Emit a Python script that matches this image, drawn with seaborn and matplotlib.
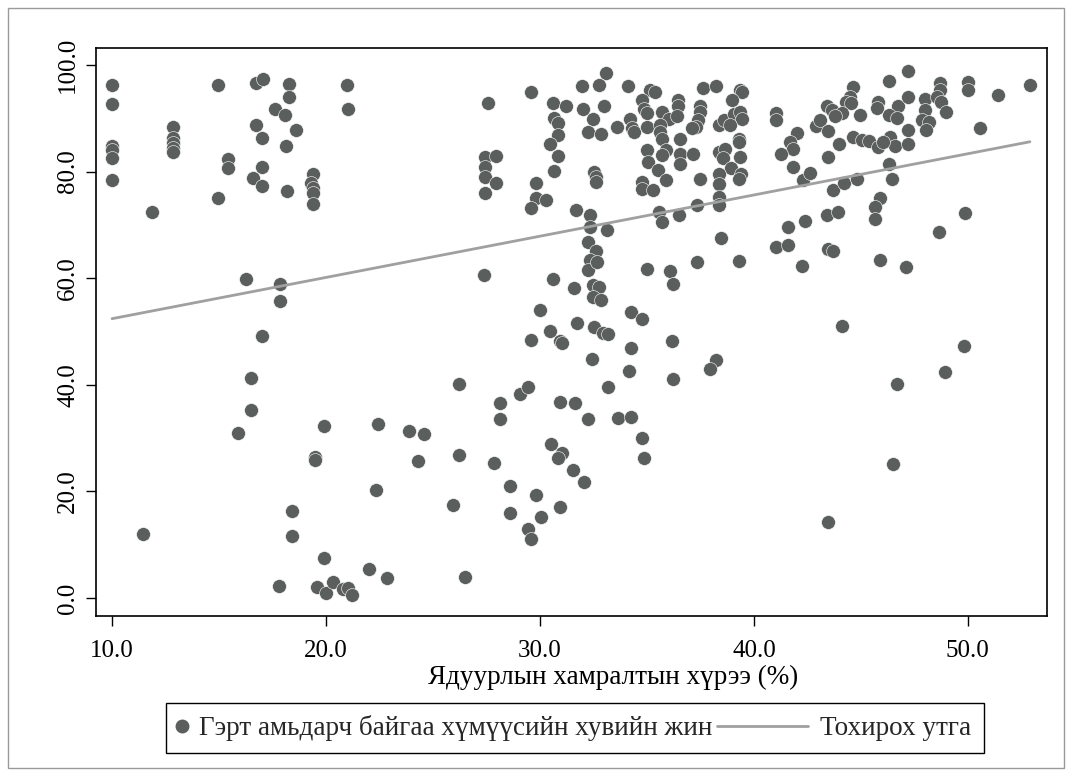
import numpy as np
import pandas as pd
import matplotlib
matplotlib.use("Agg")
import matplotlib.pyplot as plt
import seaborn as sns
from matplotlib.lines import Line2D
from matplotlib.legend_handler import HandlerLine2D
from matplotlib.patches import Rectangle

# ---- data ----
poverty_rate = [
    10.0, 10.0, 10.0, 10.0, 10.0, 10.0, 11.45, 11.85,
    12.85, 12.85, 12.85, 12.85, 12.85, 14.95, 14.95, 15.4, 15.4, 16.25,
    16.75, 17.05, 16.75, 17.0, 17.0, 16.6, 17.0,
    18.25, 18.25, 17.6, 18.1, 18.6, 18.15, 18.2,
    19.4, 19.3, 19.4, 19.4, 19.4, 17.85, 17.85, 17.0, 21.0, 21.05,
    16.5, 16.5, 15.9, 19.9, 19.5, 19.5,
    18.4, 18.4, 19.9, 17.8, 19.6, 20.0, 20.35, 20.8, 21.05, 21.2,
    22.0, 22.85, 22.45, 22.35, 23.9, 24.6, 24.3,
    26.2, 26.2, 25.95, 26.5, 27.85, 28.15, 28.15, 28.6, 28.6,
    29.05, 29.45, 29.6, 30.45, 30.95, 31.05,
    30.95, 31.65, 30.5, 31.05, 30.85, 31.55, 29.8, 30.05, 29.45, 29.6, 30.95, 32.05,
    27.55, 27.45, 27.95, 27.45, 27.45, 27.95, 27.45, 27.4,
    29.6, 30.6, 31.2, 30.65, 30.85, 30.85, 30.45, 30.85, 30.65, 29.8, 29.8, 30.3, 29.6, 31.7,
    30.6, 31.6, 30.0, 31.75,
    33.1, 31.95, 32.75, 34.1, 35.15, 35.4, 34.75, 34.85, 35.0, 36.45, 36.45, 37.6, 38.25, 39.35, 39.45, 39.0,
    32.0, 33.0, 32.5, 32.25, 32.85, 33.6, 34.2, 34.3, 34.4, 35.0,
    35.7, 36.05, 36.4, 35.6, 35.6, 35.7,
    35.0, 35.9, 35.7, 35.05, 35.5, 35.9, 34.75, 34.75, 35.3,
    36.55, 36.55, 36.55, 37.15,
    37.5, 37.5, 37.4, 37.3, 37.1, 37.5,
    38.35, 38.65, 38.55,
    38.35, 38.6, 39.05, 39.35, 39.45, 38.9,
    39.3, 39.3, 39.35, 38.95, 39.4, 39.3,
    38.35, 38.35, 38.35, 38.35, 37.35, 36.5, 35.55, 35.7,
    32.55, 32.6, 32.6,
    32.35, 32.35, 33.15, 32.25, 32.6, 32.35, 32.25, 32.65,
    32.5, 32.75, 32.5, 32.85,
    32.55, 32.95, 33.2, 34.25, 34.75, 35.0, 36.1, 36.2, 37.35, 38.45, 39.3,
    41.05, 41.05, 42.0, 41.7, 41.85, 41.25, 41.85, 42.3, 42.6, 42.9,
    41.6, 42.4, 41.05, 41.6, 42.25, 36.15,
    34.25, 32.45, 34.15, 36.2, 38.25, 37.95, 33.2, 32.25, 33.65, 34.25, 34.75, 34.85,
    47.2, 46.3, 48.7, 48.7, 50.0, 50.0, 52.9, 51.4,
    44.65, 44.5, 44.3, 44.55,
    43.4, 43.65, 44.1, 43.8, 43.1, 43.45,
    44.95, 45.8, 45.75, 46.75, 46.3, 46.7, 47.2,
    48.0, 48.0, 47.85, 48.2, 48.05, 48.55, 48.75, 49.0, 50.55, 47.2,
    44.65, 45.05, 45.4, 45.8, 46.35, 46.6, 47.2, 44.0, 46.05,
    43.45, 46.3, 46.45, 43.7, 44.2, 44.8,
    45.9, 45.65, 45.65, 43.4, 43.95, 49.85, 48.65, 43.45, 43.7, 45.9, 47.1, 44.1,
    49.8, 48.95, 46.7, 46.5, 43.45,
]
ger_share = [
    96.2, 92.6, 84.8, 84.0, 82.6, 78.5, 12.0, 72.4,
    88.3, 86.4, 85.3, 84.4, 83.6, 96.2, 75.1, 82.3, 80.6, 59.8,
    96.6, 97.3, 88.8, 86.4, 80.8, 78.8, 77.3,
    96.4, 94.0, 91.8, 90.7, 87.9, 84.8, 76.3,
    79.5, 77.8, 77.0, 75.9, 74.0, 59.0, 55.7, 49.1, 96.2, 91.7,
    41.2, 35.3, 31.0, 32.3, 26.4, 25.8,
    16.3, 11.6, 7.4, 2.3, 2.0, 0.9, 2.9, 1.6, 1.8, 0.5,
    5.4, 3.7, 32.6, 20.3, 31.4, 30.8, 25.7,
    40.1, 26.8, 17.4, 3.9, 25.4, 36.5, 33.6, 21.0, 16.0,
    38.2, 39.5, 48.4, 50.0, 48.2, 47.8,
    36.7, 36.6, 28.8, 27.1, 26.3, 24.0, 19.4, 15.1, 12.9, 11.0, 17.1, 21.8,
    92.8, 82.8, 82.9, 80.9, 79.0, 77.9, 76.0, 60.6,
    94.9, 92.9, 92.3, 90.1, 89.1, 86.9, 85.1, 82.9, 80.1, 77.8, 75.1, 74.6, 73.1, 72.8,
    59.9, 58.1, 54.1, 51.6,
    98.5, 96.0, 96.3, 96.0, 95.3, 94.9, 93.4, 91.8, 91.0, 93.4, 92.4, 95.6, 96.0, 95.4, 94.9, 93.5,
    91.8, 92.3, 89.8, 87.4, 87.0, 88.4, 89.9, 88.1, 87.4, 88.3,
    91.2, 89.9, 90.4, 88.7, 87.4, 86.2,
    84.0, 84.0, 83.1, 81.8, 80.3, 78.4, 78.1, 76.8, 76.6,
    86.2, 83.4, 81.4, 83.4,
    92.4, 91.2, 89.6, 88.3, 88.1, 78.7,
    83.7, 84.3, 82.6,
    88.7, 89.6, 90.9, 91.2, 89.9, 88.7,
    86.2, 85.6, 82.8, 80.6, 79.6, 78.7,
    79.6, 77.6, 75.2, 73.7, 73.8, 71.8, 72.4, 70.6,
    80.0, 79.0, 78.1,
    71.8, 69.6, 69.1, 66.8, 65.1, 63.4, 61.5, 63.1,
    58.7, 58.4, 56.5, 55.9,
    50.9, 49.7, 49.6, 53.7, 52.4, 61.8, 61.3, 59.0, 63.1, 67.6, 63.2,
    91.0, 89.6, 87.3, 85.6, 84.3, 83.4, 80.9, 78.4, 79.7, 88.6,
    69.6, 70.7, 65.9, 66.2, 62.3, 48.2,
    46.9, 44.8, 42.6, 41.1, 44.6, 42.9, 39.5, 33.5, 33.7, 34.0, 30.1, 26.3,
    98.9, 97.1, 96.6, 95.3, 96.8, 95.3, 96.3, 94.3,
    95.8, 94.0, 93.1, 92.8,
    92.4, 91.6, 91.0, 90.4, 89.6, 87.6,
    90.6, 93.1, 91.9, 92.4, 90.6, 90.1, 94.0,
    93.7, 91.6, 89.6, 89.4, 87.8, 94.0, 93.1, 91.2, 88.2, 87.8,
    86.5, 86.0, 85.7, 84.6, 86.5, 84.8, 85.1, 85.1, 85.6,
    82.8, 81.4, 78.7, 76.6, 77.9, 78.7,
    75.1, 73.4, 71.2, 71.8, 72.4, 72.3, 68.6, 65.4, 65.1, 63.5, 62.1, 51.0,
    47.3, 42.4, 40.1, 25.1, 14.2,
]
# fitted-values series
fit_x = [10.0, 52.9]
fit_y = [52.4, 85.6]

x_ticks = [10, 20, 30, 40, 50]
y_ticks = [0, 20, 40, 60, 80, 100]
x_label = "Ядуурлын хамралтын хүрээ (%)"
series_label = "Гэрт амьдарч байгаа хүмүүсийн хувийн жин"
fit_label = "Тохирох утга"

df = pd.DataFrame({"x": poverty_rate, "y": ger_share})
fit_df = pd.DataFrame({"x": fit_x, "y": fit_y})

# ---- style ----
sns.set_theme(style="white")
plt.rcParams["font.family"] = ["Liberation Serif", "DejaVu Serif"]
dot_color = "#5a5e5d"
line_color = "#a0a0a0"
fs = 18
fs_big = 19.5

fig = plt.figure(figsize=(10.72, 7.76), dpi=100)
ax = fig.add_axes([96 / 1072, 1 - 616 / 776, (1047 - 96) / 1072, (616 - 48) / 776])

sns.scatterplot(data=df, x="x", y="y", s=100, color=dot_color, edgecolor="white",
                linewidth=0.4, ax=ax, zorder=3, legend=False)
sns.lineplot(data=fit_df, x="x", y="y", color=line_color, lw=2, ax=ax, zorder=4,
             legend=False)

ax.set_xlim(9.25, 53.7)
ax.set_ylim(-3.4, 103.2)
ax.set_xticks(x_ticks)
ax.set_xticklabels([f"{v:.1f}" for v in x_ticks])
ax.set_yticks(y_ticks)
ax.set_yticklabels([f"{v:.1f}" for v in y_ticks], rotation=90, va="center")
ax.tick_params(axis="both", direction="out", length=7, width=1, color="black",
               labelsize=fs, labelcolor="black", bottom=True, left=True)
ax.tick_params(axis="x", pad=10.5)
ax.tick_params(axis="y", pad=5)
for sp in ax.spines.values():
    sp.set_color("black")
    sp.set_linewidth(1.2)
ax.set_xlabel(x_label, fontsize=fs_big, color="black", labelpad=1.5, x=0.544)
ax.set_ylabel("")
ax.grid(False)


class LongLineHandler(HandlerLine2D):
    def create_artists(self, legend, orig_handle, xdescent, ydescent, width,
                       height, fontsize, trans):
        extra = 3.05 * fontsize
        yv = (height - ydescent) / 2
        ln = Line2D([-xdescent - extra, -xdescent + width + 2], [yv, yv])
        self.update_prop(ln, orig_handle, legend)
        ln.set_transform(trans)
        return [ln]


h_dot = Line2D([], [], ls="", marker="o", markersize=9, color=dot_color)
h_line = Line2D([], [], color=line_color, lw=2)
leg = fig.legend([h_dot, h_line], [series_label, fit_label], loc="center",
                 bbox_to_anchor=(575 / 1072, 1 - 728 / 776), ncol=2, fontsize=fs_big,
                 frameon=True, fancybox=False, edgecolor="black", framealpha=1,
                 handlelength=0.22, handletextpad=0.55, columnspacing=3.2,
                 borderpad=0.45, handler_map={h_line: LongLineHandler()})
leg.get_frame().set_linewidth(1)

fig.patches.append(Rectangle((8 / 1072, 8 / 776), (1064 - 8) / 1072, (768 - 8) / 776,
                             transform=fig.transFigure, fill=False,
                             edgecolor="#9a9a9a", lw=1))

fig.savefig("out.png", dpi=100)
